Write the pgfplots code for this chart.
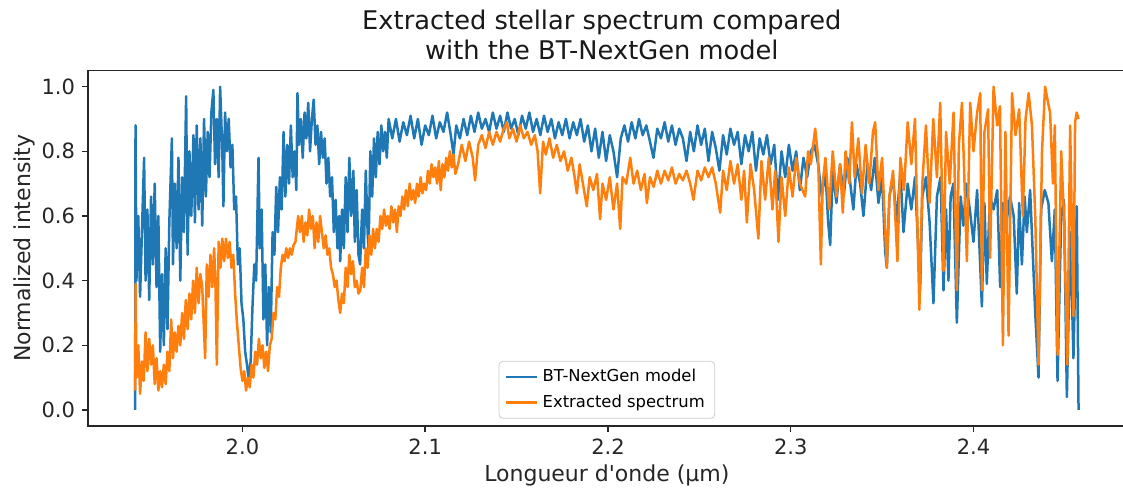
\documentclass[border=0pt]{standalone}
\usepackage{pgfplots}
\pgfplotsset{compat=1.18}
\usepackage{fontspec}
\setmainfont{DejaVu Sans}[Ligatures=TeXOff]
\definecolor{mplblue}{HTML}{1F77B4}
\definecolor{mplorange}{HTML}{FF7F0E}
\begin{document}
\begin{tikzpicture}
\useasboundingbox (-44pt,-31.9pt) rectangle (517.5pt,213.05pt);
\begin{axis}[
  scale only axis,
  width=518.85pt, height=177.8pt,
  xmin=1.9155, xmax=2.4833, ymin=-0.05, ymax=1.05,
  axis line style={line width=0.7pt, black!85},
  tick style={line width=0.7pt, black!85},
  tick align=outside, major tick length=3pt,
  xtick={2.0,2.1,2.2,2.3,2.4},
  ytick={0,0.2,0.4,0.6,0.8,1.0},
  xtick pos=bottom, ytick pos=left,
  /pgf/number format/assume math mode=true,
  xticklabel style={/pgf/number format/.cd, fixed, fixed zerofill, precision=1},
  yticklabel style={/pgf/number format/.cd, fixed, fixed zerofill, precision=1},
  ticklabel style={font=\fontsize{10.5}{12}\selectfont, text=black!85},
  title={Extracted stellar spectrum compared\\with the BT-NextGen model},
  title style={at={(axis description cs:0.5,1)}, anchor=south, inner sep=0pt, xshift=-2.5pt, yshift=-1pt, align=center, font=\fontsize{12.85}{15}\selectfont, text=black!90},
  xlabel={Longueur d'onde (µm)},
  xlabel style={at={(axis description cs:0.5,0)}, anchor=base, yshift=-27.5pt, font=\fontsize{11}{13}\selectfont, text=black!85},
  ylabel={Normalized intensity},
  ylabel style={at={(axis description cs:0,0.5)}, anchor=base, yshift=28.5pt, font=\fontsize{11}{13}\selectfont, text=black!85},
  legend style={at={(axis description cs:0.5,0.021)}, anchor=south, draw=black!20, rounded corners=2pt, fill=white, fill opacity=0.8, text opacity=1, font=\fontsize{8.2}{10}\selectfont, row sep=1pt, inner xsep=3pt, inner ysep=2pt},
  legend cell align=left,
  legend image code/.code={\draw[#1] (0cm,0cm) -- (0.55cm,0cm);},
  every axis plot/.append style={line width=1.25pt, line join=round, no markers},
]
\addplot[mplblue] coordinates {
(1.9413,0.00)(1.9415,0.88)(1.9420,0.40)(1.9430,0.60)(1.9440,0.35)(1.9450,0.55)(1.9462,0.78)(1.9470,0.40)(1.9480,0.62)(1.9490,0.34)
(1.9500,0.66)(1.9510,0.45)(1.9520,0.70)(1.9530,0.38)(1.9540,0.60)(1.9550,0.18)(1.9560,0.42)(1.9570,0.20)(1.9580,0.50)(1.9590,0.25)
(1.9600,0.58)(1.9614,0.84)(1.9620,0.45)(1.9630,0.70)(1.9640,0.50)(1.9650,0.78)(1.9660,0.40)(1.9670,0.72)(1.9680,0.55)(1.9692,0.97)
(1.9700,0.48)(1.9710,0.80)(1.9720,0.60)(1.9732,0.85)(1.9740,0.58)(1.9750,0.88)(1.9760,0.62)(1.9770,0.84)(1.9780,0.57)(1.9790,0.90)
(1.9800,0.66)(1.9810,0.86)(1.9820,0.72)(1.9830,0.92)(1.9841,0.99)(1.9850,0.76)(1.9860,0.90)(1.9870,0.72)(1.9878,1.00)(1.9890,0.80)
(1.9896,0.63)(1.9905,0.92)(1.9915,0.80)(1.9925,0.90)(1.9935,0.75)(1.9945,0.82)(1.9955,0.62)(1.9965,0.66)(1.9975,0.45)(1.9985,0.50)
(1.9995,0.33)(2.0005,0.28)(2.0015,0.18)(2.0025,0.14)(2.0033,0.10)(2.0045,0.15)(2.0055,0.32)(2.0065,0.45)(2.0075,0.40)(2.0088,0.78)
(2.0095,0.50)(2.0105,0.62)(2.0115,0.28)(2.0125,0.45)(2.0135,0.20)(2.0145,0.38)(2.0155,0.24)(2.0165,0.55)(2.0175,0.48)(2.0185,0.69)
(2.0195,0.55)(2.0205,0.72)(2.0215,0.62)(2.0225,0.86)(2.0235,0.66)(2.0245,0.82)(2.0255,0.70)(2.0265,0.88)(2.0275,0.72)(2.0285,0.80)
(2.0295,0.68)(2.0301,0.98)(2.0310,0.82)(2.0320,0.90)(2.0330,0.78)(2.0340,0.92)(2.0350,0.84)(2.0360,0.95)(2.0370,0.80)(2.0380,0.90)
(2.0390,0.96)(2.0400,0.82)(2.0410,0.88)(2.0420,0.76)(2.0430,0.86)(2.0440,0.78)(2.0450,0.84)(2.0460,0.70)(2.0470,0.78)(2.0480,0.66)
(2.0490,0.72)(2.0500,0.55)(2.0510,0.65)(2.0520,0.50)(2.0530,0.60)(2.0535,0.46)(2.0545,0.62)(2.0555,0.50)(2.0565,0.72)(2.0575,0.55)
(2.0585,0.78)(2.0595,0.60)(2.0607,0.74)(2.0615,0.52)(2.0625,0.68)(2.0635,0.48)(2.0644,0.45)(2.0655,0.62)(2.0665,0.50)(2.0675,0.74)
(2.0685,0.55)(2.0690,0.50)(2.0700,0.80)(2.0710,0.66)(2.0720,0.84)(2.0730,0.72)(2.0740,0.86)(2.0750,0.76)(2.0760,0.88)(2.0770,0.80)
(2.0780,0.86)(2.0790,0.78)(2.0800,0.90)(2.082,0.84)(2.084,0.90)(2.086,0.83)(2.088,0.89)(2.090,0.85)(2.092,0.91)(2.094,0.84)
(2.096,0.90)(2.098,0.82)(2.100,0.88)(2.102,0.85)(2.104,0.91)(2.106,0.84)(2.108,0.89)(2.110,0.86)(2.112,0.92)(2.114,0.85)
(2.1155,0.79)(2.117,0.88)(2.119,0.84)(2.121,0.90)(2.123,0.85)(2.125,0.91)(2.127,0.86)(2.129,0.92)(2.131,0.87)(2.133,0.90)
(2.135,0.86)(2.137,0.92)(2.139,0.87)(2.141,0.91)(2.143,0.86)(2.145,0.92)(2.147,0.87)(2.149,0.90)(2.151,0.85)(2.153,0.91)
(2.155,0.87)(2.157,0.92)(2.159,0.86)(2.161,0.90)(2.163,0.85)(2.165,0.91)(2.167,0.86)(2.169,0.90)(2.171,0.84)(2.173,0.89)
(2.175,0.85)(2.177,0.90)(2.179,0.84)(2.181,0.89)(2.183,0.85)(2.185,0.90)(2.187,0.83)(2.189,0.88)(2.191,0.80)(2.193,0.87)
(2.195,0.78)(2.197,0.86)(2.199,0.77)(2.201,0.85)(2.203,0.80)(2.205,0.72)(2.207,0.84)(2.209,0.88)(2.211,0.83)(2.213,0.89)
(2.215,0.84)(2.217,0.90)(2.219,0.85)(2.221,0.88)(2.223,0.83)(2.2249,0.78)(2.227,0.87)(2.229,0.84)(2.231,0.89)(2.233,0.83)
(2.235,0.88)(2.237,0.82)(2.239,0.87)(2.241,0.84)(2.243,0.77)(2.245,0.86)(2.247,0.80)(2.249,0.88)(2.251,0.82)(2.253,0.87)
(2.255,0.77)(2.257,0.86)(2.259,0.81)(2.261,0.74)(2.263,0.85)(2.265,0.79)(2.267,0.87)(2.269,0.82)(2.271,0.86)(2.273,0.76)
(2.275,0.85)(2.277,0.80)(2.279,0.86)(2.281,0.74)(2.283,0.84)(2.285,0.79)(2.287,0.85)(2.289,0.76)(2.291,0.82)(2.293,0.65)
(2.295,0.80)(2.297,0.72)(2.299,0.82)(2.301,0.74)(2.303,0.80)(2.305,0.68)(2.307,0.78)(2.309,0.72)(2.311,0.80)(2.313,0.82)
(2.315,0.76)(2.317,0.66)(2.319,0.74)(2.3205,0.58)(2.3216,0.51)(2.323,0.74)(2.325,0.64)(2.327,0.76)(2.329,0.66)(2.331,0.78)
(2.333,0.68)(2.3343,0.62)(2.336,0.76)(2.338,0.70)(2.3398,0.60)(2.342,0.76)(2.344,0.68)(2.346,0.78)(2.348,0.64)(2.350,0.72)
(2.3517,0.49)(2.3526,0.44)(2.354,0.66)(2.356,0.72)(2.358,0.58)(2.360,0.74)(2.3617,0.55)(2.364,0.70)(2.366,0.62)(2.368,0.72)
(2.3708,0.37)(2.372,0.66)(2.374,0.72)(2.376,0.58)(2.3781,0.33)(2.380,0.66)(2.382,0.72)(2.3836,0.37)(2.3850,0.62)(2.3863,0.40)
(2.3875,0.66)(2.389,0.70)(2.3909,0.27)(2.393,0.66)(2.3945,0.57)(2.396,0.70)(2.398,0.62)(2.4000,0.52)(2.402,0.68)(2.4046,0.32)
(2.406,0.64)(2.4073,0.39)(2.409,0.66)(2.411,0.62)(2.413,0.68)(2.4146,0.38)(2.416,0.64)(2.418,0.58)(2.420,0.66)(2.422,0.60)
(2.4237,0.36)(2.425,0.64)(2.4265,0.45)(2.428,0.66)(2.4292,0.55)(2.431,0.68)(2.4338,0.30)(2.4356,0.10)(2.437,0.62)(2.439,0.68)
(2.441,0.64)(2.4429,0.46)(2.4445,0.62)(2.4460,0.09)(2.448,0.60)(2.4495,0.65)(2.4511,0.04)(2.453,0.55)(2.4547,0.16)(2.4565,0.63)
(2.4575,0.00)
};
\addlegendentry{BT-NextGen model}
\addplot[mplorange] coordinates {
(1.9413,0.06)(1.9416,0.39)(1.9420,0.10)(1.9430,0.20)(1.9440,0.05)(1.9450,0.15)(1.9460,0.09)(1.9470,0.24)(1.9480,0.12)(1.9490,0.22)
(1.9500,0.14)(1.9510,0.20)(1.9520,0.08)(1.9530,0.16)(1.9540,0.06)(1.9550,0.12)(1.9560,0.07)(1.9570,0.14)(1.9580,0.08)(1.9590,0.18)
(1.9600,0.12)(1.9610,0.28)(1.9620,0.16)(1.9630,0.24)(1.9640,0.18)(1.9650,0.26)(1.9660,0.20)(1.9670,0.30)(1.9680,0.22)(1.9690,0.34)
(1.9700,0.25)(1.9710,0.36)(1.9720,0.28)(1.9730,0.40)(1.9740,0.30)(1.9750,0.44)(1.9760,0.33)(1.9770,0.42)(1.9780,0.38)(1.9796,0.16)
(1.9805,0.45)(1.9815,0.35)(1.9825,0.48)(1.9835,0.38)(1.9845,0.50)(1.9852,0.40)(1.9860,0.14)(1.9870,0.52)(1.9880,0.44)(1.9890,0.53)
(1.9900,0.46)(1.9910,0.53)(1.9920,0.47)(1.9930,0.52)(1.9940,0.44)(1.9950,0.48)(1.9960,0.36)(1.9970,0.27)(1.9980,0.20)(1.9990,0.13)
(2.0000,0.09)(2.0010,0.12)(2.0020,0.06)(2.0030,0.10)(2.0040,0.07)(2.0050,0.14)(2.0060,0.10)(2.0070,0.18)(2.0080,0.14)(2.0090,0.22)
(2.0100,0.16)(2.0110,0.20)(2.0120,0.13)(2.0130,0.18)(2.0140,0.12)(2.0150,0.20)(2.0160,0.22)(2.0170,0.30)(2.0180,0.28)(2.0190,0.38)
(2.0200,0.35)(2.0210,0.44)(2.0220,0.48)(2.0230,0.46)(2.0240,0.50)(2.0250,0.47)(2.0260,0.50)(2.0270,0.48)(2.0280,0.51)(2.0290,0.52)
(2.0305,0.60)(2.0315,0.55)(2.0325,0.60)(2.0335,0.52)(2.0345,0.58)(2.0355,0.54)(2.0365,0.62)(2.0375,0.56)(2.0385,0.60)(2.0395,0.50)
(2.0405,0.58)(2.0415,0.52)(2.0425,0.60)(2.0435,0.55)(2.0445,0.50)(2.0455,0.54)(2.0465,0.48)(2.0475,0.50)(2.0485,0.44)(2.0495,0.42)
(2.0505,0.38)(2.0515,0.40)(2.0525,0.34)(2.0535,0.30)(2.0545,0.36)(2.0555,0.33)(2.0565,0.44)(2.0575,0.38)(2.0585,0.48)(2.0595,0.42)
(2.0605,0.46)(2.0615,0.38)(2.0625,0.40)(2.0635,0.36)(2.0645,0.37)(2.0655,0.44)(2.0665,0.38)(2.0675,0.50)(2.0685,0.44)(2.0695,0.54)
(2.0705,0.48)(2.0715,0.56)(2.0725,0.50)(2.0735,0.56)(2.0745,0.52)(2.0755,0.60)(2.0765,0.56)(2.0775,0.62)(2.0785,0.57)(2.0795,0.60)
(2.0805,0.56)(2.0815,0.63)(2.0825,0.58)(2.0835,0.62)(2.0845,0.55)(2.0855,0.63)(2.0865,0.60)(2.0875,0.66)(2.0885,0.62)(2.0895,0.68)
(2.0905,0.63)(2.0915,0.70)(2.0925,0.65)(2.0935,0.68)(2.0945,0.64)(2.0955,0.70)(2.0965,0.66)(2.0975,0.72)(2.0985,0.67)(2.0995,0.70)
(2.1005,0.68)(2.1015,0.74)(2.1025,0.70)(2.1035,0.76)(2.1045,0.72)(2.1055,0.75)(2.1065,0.70)(2.1075,0.77)(2.1085,0.68)(2.1095,0.76)
(2.1105,0.72)(2.1115,0.78)(2.1125,0.74)(2.1135,0.80)(2.1145,0.75)(2.1155,0.79)(2.1165,0.73)(2.118,0.76)(2.120,0.82)(2.122,0.77)
(2.124,0.83)(2.126,0.78)(2.1273,0.71)(2.129,0.82)(2.131,0.85)(2.133,0.81)(2.135,0.86)(2.137,0.82)(2.139,0.86)(2.141,0.83)
(2.143,0.87)(2.1447,0.89)(2.146,0.84)(2.148,0.87)(2.150,0.83)(2.152,0.88)(2.154,0.84)(2.156,0.86)(2.158,0.82)(2.160,0.85)
(2.1615,0.80)(2.1629,0.67)(2.1645,0.83)(2.166,0.79)(2.168,0.84)(2.170,0.78)(2.172,0.82)(2.174,0.77)(2.176,0.80)(2.178,0.74)
(2.180,0.78)(2.1815,0.73)(2.1830,0.67)(2.1845,0.76)(2.186,0.71)(2.1884,0.63)(2.190,0.72)(2.192,0.68)(2.194,0.73)(2.1957,0.59)
(2.197,0.70)(2.199,0.65)(2.201,0.72)(2.203,0.62)(2.205,0.70)(2.2067,0.56)(2.208,0.72)(2.210,0.70)(2.2122,0.78)(2.214,0.70)
(2.216,0.74)(2.218,0.68)(2.220,0.73)(2.2213,0.64)(2.223,0.72)(2.225,0.69)(2.227,0.74)(2.229,0.70)(2.231,0.74)(2.233,0.71)
(2.235,0.75)(2.237,0.70)(2.239,0.73)(2.241,0.71)(2.243,0.74)(2.245,0.70)(2.2468,0.65)(2.249,0.74)(2.251,0.71)(2.253,0.75)
(2.255,0.72)(2.257,0.75)(2.259,0.70)(2.2614,0.61)(2.263,0.74)(2.265,0.68)(2.267,0.77)(2.269,0.70)(2.271,0.76)(2.273,0.65)
(2.2745,0.74)(2.2760,0.58)(2.278,0.76)(2.280,0.68)(2.2823,0.53)(2.284,0.77)(2.286,0.65)(2.288,0.78)(2.290,0.62)(2.2915,0.74)
(2.2933,0.52)(2.295,0.72)(2.297,0.60)(2.299,0.75)(2.301,0.66)(2.303,0.78)(2.305,0.70)(2.3079,0.66)(2.3095,0.80)(2.311,0.76)
(2.3134,0.87)(2.3150,0.78)(2.3165,0.45)(2.3175,0.70)(2.319,0.78)(2.321,0.62)(2.323,0.80)(2.325,0.66)(2.327,0.76)(2.3285,0.61)
(2.330,0.80)(2.332,0.70)(2.3335,0.89)(2.335,0.72)(2.337,0.84)(2.339,0.67)(2.341,0.82)(2.343,0.70)(2.345,0.86)(2.3462,0.89)
(2.348,0.68)(2.350,0.78)(2.3526,0.44)(2.354,0.66)(2.356,0.74)(2.3584,0.46)(2.360,0.78)(2.362,0.68)(2.364,0.89)(2.366,0.76)
(2.368,0.90)(2.3704,0.31)(2.372,0.70)(2.374,0.88)(2.376,0.64)(2.378,0.90)(2.380,0.72)(2.3818,0.95)(2.3836,0.43)(2.385,0.86)
(2.387,0.70)(2.3891,0.92)(2.3909,0.37)(2.392,0.82)(2.3937,0.95)(2.395,0.72)(2.3964,0.46)(2.3982,0.95)(2.400,0.80)(2.402,0.92)
(2.4037,0.98)(2.4046,0.37)(2.406,0.86)(2.408,0.93)(2.4091,0.47)(2.4110,1.00)(2.413,0.88)(2.4145,0.94)(2.4161,0.20)(2.4175,0.86)
(2.4192,0.23)(2.4211,0.98)(2.423,0.85)(2.425,0.93)(2.427,0.60)(2.4285,0.90)(2.4302,0.98)(2.432,0.88)(2.4338,0.60)(2.4356,0.14)
(2.4375,0.80)(2.4392,1.00)(2.4405,0.96)(2.4419,0.92)(2.4435,0.70)(2.4445,0.88)(2.4460,0.17)(2.448,0.80)(2.4495,0.60)(2.4514,0.14)
(2.4529,0.88)(2.4547,0.29)(2.4556,0.89)(2.4565,0.92)(2.4575,0.90)
};
\addlegendentry{Extracted spectrum}
\end{axis}
\end{tikzpicture}
\end{document}
